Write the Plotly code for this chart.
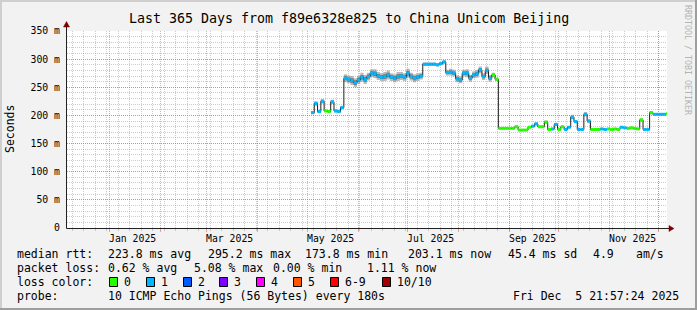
import plotly.graph_objects as go
import pandas as pd

W, H = 697, 310
PLOT_L, PLOT_R, PLOT_T, PLOT_B = 67, 667, 31, 228


def fx(p):
    return p / W


def fy(p):
    return 1 - p / H


MONO = "DejaVu Sans Mono"

title_text = "Last 365 Days from f89e6328e825 to China Unicom Beijing"
range_start = "2024-12-05 21:57:24"
range_end = "2025-12-05 21:57:24"
sample_start = "2025-05-03 08:00"
sample_step = "2D"

# median round-trip time (ms), one value per sample
median_ms = [
    205, 221, 207, 225, 208, 207, 224, 208, 207, 214,
    266, 264, 262, 258, 263, 268, 264, 269, 275, 274, 270, 268, 269, 272,
    268, 266, 269, 270, 268, 275, 269, 266, 268, 270,
    291, 291, 291, 291, 290, 292, 295, 276, 277, 275, 265, 263, 275, 275,
    266, 272, 274, 281, 269, 280, 266, 272, 264,
    177, 177, 177, 177, 177, 180, 174, 174, 174, 179,
    181, 185, 180, 180, 188, 175, 176, 184, 175, 180,
    175, 179, 197, 189, 175, 175, 202, 190, 175, 175,
    175, 176, 175, 176, 175, 176, 175, 179, 178, 177,
    178, 177, 176, 192, 175, 175, 205, 202, 202, 202,
    202, 203,
]
# half-width of the smoke (ping spread) around the median (ms)
smoke_ms = [
    3, 4, 3, 4, 2, 2, 4, 3, 3, 3,
    7, 7, 8, 8, 7, 8, 8, 7, 7, 8, 7, 7, 8, 8, 7, 7, 8, 7, 7, 8, 7, 7, 7, 6,
    3, 3, 3, 3, 3, 3, 3, 5, 6, 6, 6, 6, 6, 7, 6, 6, 7, 6, 6, 7, 6, 4, 3,
    1, 1, 1, 1, 1, 2, 1, 1, 1, 1,
    2, 3, 1, 1, 3, 1, 1, 3, 1, 1,
    1, 2, 4, 3, 1, 1, 4, 3, 1, 1,
    1, 1, 1, 1, 1, 1, 1, 1, 1, 1,
    1, 1, 1, 3, 1, 1, 3, 2, 2, 2,
    2, 2,
]
# packet loss class per sample (index into loss_colors)
loss_class = [
    1, 1, 1, 1, 0, 0, 1, 1, 1, 1,
    1, 1, 1, 1, 1, 1, 1, 1, 1, 1, 1, 1, 1, 1, 1, 1, 1, 1, 1, 1, 1, 1, 1, 1,
    1, 1, 1, 1, 1, 1, 1, 1, 1, 1, 1, 1, 1, 1, 1, 1, 1, 1, 1, 1, 1, 0, 0,
    0, 0, 0, 0, 0, 0, 0, 0, 0, 0,
    1, 1, 0, 0, 0, 0, 1, 1, 0, 0,
    1, 1, 1, 1, 1, 1, 1, 1, 0, 0,
    0, 1, 1, 0, 0, 0, 0, 1, 1, 0,
    0, 0, 0, 0, 1, 1, 0, 1, 1, 1,
    1, 0,
]

loss_colors = ["#26ff00", "#00b8ff", "#0059ff", "#7e00ff",
               "#ff00ff", "#ff5500", "#ff0000", "#a10000"]
loss_labels = ["0", "1", "2", "3", "4", "5", "6-9", "10/10"]

y_ticks = [0, 50, 100, 150, 200, 250, 300, 350]
y_ticklabels = ["0", "50 m", "100 m", "150 m", "200 m", "250 m", "300 m", "350 m"]
month_lines = ["2025-%02d-01" % m for m in range(1, 13)]
month_label_pos = ["2025-01-15", "2025-03-15", "2025-05-15",
                   "2025-07-15", "2025-09-15", "2025-11-15"]
month_labels = ["Jan 2025", "Mar 2025", "May 2025", "Jul 2025", "Sep 2025", "Nov 2025"]

legend_rows = [
    (254, [(16, "median rtt:"), (107, "223.8 ms avg"), (207, "295.2 ms max"),
           (304, "173.8 ms min"), (407, "203.1 ms now"), (507, "45.4 ms sd"),
           (592, "4.9"), (635, "am/s")]),
    (268, [(16, "packet loss:"), (107, "0.62 % avg"), (193, "5.08 % max"),
           (272, "0.00 % min"), (366, "1.11 % now")]),
    (282, [(16, "loss color:")]),
    (296, [(16, "probe:"), (107, "10 ICMP Echo Pings (56 Bytes) every 180s")]),
]
loss_box_x = [109, 146, 183, 219, 256, 293, 330, 382]
timestamp_text = "Fri Dec  5 21:57:24 2025"

GRID = "rgba(143,143,143,0.45)"
MGRID = "rgba(222,79,79,0.5)"
ARROW = "#800000"
AXIS = "#212121"

dates = pd.date_range(sample_start, periods=len(median_ms), freq=sample_step)
step = dates[1] - dates[0]
n = len(median_ms)

fig = go.Figure()

# smoke bands
outer_hi = [m + s for m, s in zip(median_ms, smoke_ms)]
outer_lo = [m - s for m, s in zip(median_ms, smoke_ms)]
inner_hi = [m + s * 0.5 for m, s in zip(median_ms, smoke_ms)]
inner_lo = [m - s * 0.5 for m, s in zip(median_ms, smoke_ms)]
for hi, lo, col in [(outer_hi, outer_lo, "rgba(140,140,140,0.6)"),
                    (inner_hi, inner_lo, "rgba(70,70,70,0.6)")]:
    fig.add_trace(go.Scatter(x=dates, y=hi, mode="lines", line=dict(width=0, shape="hv"),
                             hoverinfo="skip", showlegend=False))
    fig.add_trace(go.Scatter(x=dates, y=lo, mode="lines", line=dict(width=0, shape="hv"),
                             fill="tonexty", fillcolor=col, hoverinfo="skip", showlegend=False))

# median line
fig.add_trace(go.Scatter(x=dates, y=median_ms, mode="lines",
                         line=dict(color="#202020", width=1, shape="hv"),
                         hoverinfo="skip", showlegend=False))

# loss-coloured median segments
for c, col in enumerate(loss_colors):
    xs, ys = [], []
    for i in range(n):
        if loss_class[i] != c:
            continue
        x_end = dates[i + 1] if i + 1 < n else dates[i] + step
        xs += [dates[i], x_end, None]
        ys += [median_ms[i], median_ms[i], None]
    if xs:
        fig.add_trace(go.Scatter(x=xs, y=ys, mode="lines",
                                 line=dict(color=col, width=3),
                                 hoverinfo="skip", showlegend=False))

annotations = []
annotations.append(dict(x=0.5, y=fy(18), xref="paper", yref="paper", text=title_text,
                        showarrow=False, xanchor="center", yanchor="middle",
                        font=dict(family=MONO, size=13.3, color="#000")))
annotations.append(dict(x=fx(10), y=fy(129), xref="paper", yref="paper", text="Seconds",
                        showarrow=False, textangle=-90, xanchor="center", yanchor="middle",
                        font=dict(family=MONO, size=11.5, color="#000")))
annotations.append(dict(x=fx(688), y=fy(60), xref="paper", yref="paper",
                        text="RRDTOOL / TOBI OETIKER".replace(" ", "\u00a0"),
                        showarrow=False, textangle=90, xanchor="center", yanchor="middle",
                        font=dict(family=MONO, size=8.3, color="#b4b4b4")))
# month labels placed through the x axis scale
for pos, lab in zip(month_label_pos, month_labels):
    annotations.append(dict(x=pos, y=fy(238), xref="x", yref="paper", text=lab.replace(" ", "\u00a0"),
                            showarrow=False, xanchor="center", yanchor="middle", borderpad=0,
                            font=dict(family=MONO, size=9.8, color="#000")))
for yc, items in legend_rows:
    for xl, txt in items:
        annotations.append(dict(x=fx(xl), y=fy(yc), xref="paper", yref="paper",
                                text=txt.replace(" ", "\u00a0"), showarrow=False,
                                xanchor="left", yanchor="middle", borderpad=0,
                                font=dict(family=MONO, size=11.5, color="#000")))
for bx, lab in zip(loss_box_x, loss_labels):
    annotations.append(dict(x=fx(bx + 14), y=fy(282), xref="paper", yref="paper",
                            text=lab, showarrow=False, xanchor="left", yanchor="middle",
                            borderpad=0, font=dict(family=MONO, size=11.5, color="#000")))
annotations.append(dict(x=fx(680), y=fy(296), xref="paper", yref="paper",
                        text=timestamp_text.replace(" ", "\u00a0"), showarrow=False,
                        xanchor="right", yanchor="middle", borderpad=0,
                        font=dict(family=MONO, size=11.5, color="#000")))

shapes = []
# 3D frame
shapes.append(dict(type="rect", xref="paper", yref="paper", x0=0, x1=1, y0=fy(2), y1=1,
                   fillcolor="#cfcfcf", line=dict(width=0), layer="below"))
shapes.append(dict(type="rect", xref="paper", yref="paper", x0=0, x1=fx(2), y0=0, y1=1,
                   fillcolor="#cfcfcf", line=dict(width=0), layer="below"))
shapes.append(dict(type="rect", xref="paper", yref="paper", x0=0, x1=1, y0=0, y1=fy(308),
                   fillcolor="#9e9e9e", line=dict(width=0), layer="below"))
shapes.append(dict(type="rect", xref="paper", yref="paper", x0=fx(695), x1=1, y0=0, y1=1,
                   fillcolor="#9e9e9e", line=dict(width=0), layer="below"))
# axes with arrows
shapes.append(dict(type="line", xref="paper", yref="paper", x0=fx(66.5), x1=fx(670),
                   y0=fy(228.5), y1=fy(228.5), line=dict(color=AXIS, width=1)))
shapes.append(dict(type="line", xref="paper", yref="paper", x0=fx(66.5), x1=fx(66.5),
                   y0=fy(228.5), y1=fy(26), line=dict(color=AXIS, width=1)))
shapes.append(dict(type="path", xref="paper", yref="paper",
                   path="M %f %f L %f %f L %f %f Z" % (fx(669), fy(225.5), fx(674), fy(228.5),
                                                         fx(669), fy(231.5)),
                   fillcolor=ARROW, line=dict(color=ARROW, width=0.5)))
shapes.append(dict(type="path", xref="paper", yref="paper",
                   path="M %f %f L %f %f L %f %f Z" % (fx(63.5), fy(27), fx(66.5), fy(21.5),
                                                         fx(69.5), fy(27)),
                   fillcolor=ARROW, line=dict(color=ARROW, width=0.5)))
# loss colour legend boxes
for bx, col in zip(loss_box_x, loss_colors):
    shapes.append(dict(type="rect", xref="paper", yref="paper", x0=fx(bx + 0.5), x1=fx(bx + 8.5),
                       y0=fy(286.5), y1=fy(277.5), fillcolor=col, line=dict(color="#000", width=1)))

fig.update_layout(
    width=W, height=H, margin=dict(l=0, r=0, t=0, b=0, autoexpand=False),
    paper_bgcolor="#f2f2f2", plot_bgcolor="#ffffff", showlegend=False,
    xaxis=dict(type="date", range=[range_start, range_end], domain=[fx(PLOT_L), fx(PLOT_R)],
               anchor="y", tickmode="array", tickvals=month_lines, showticklabels=False,
               automargin=False,
               showgrid=True, gridcolor=MGRID, griddash="1px,1px", gridwidth=1,
               ticks="outside", ticklen=3, tickcolor=MGRID, zeroline=False, showline=False,
               minor=dict(tickmode="linear", dtick=7 * 86400000, tick0="2024-12-09",
                          showgrid=True, gridcolor=GRID, griddash="1px,1px",
                          ticks="outside", ticklen=2, tickcolor=GRID)),
    yaxis=dict(range=[0, 350], domain=[fy(PLOT_B), fy(PLOT_T)], tickmode="array",
               tickvals=y_ticks, ticktext=y_ticklabels, showgrid=True, gridcolor=MGRID,
               griddash="1px,1px", zeroline=False, showline=False, ticks="",
               ticklabelstandoff=6, automargin=False,
               tickfont=dict(family=MONO, size=9.8, color="#000"),
               minor=dict(dtick=10, showgrid=True, gridcolor=GRID, griddash="1px,1px")),
    annotations=annotations,
    shapes=shapes,
)

fig.write_html("out.html")
